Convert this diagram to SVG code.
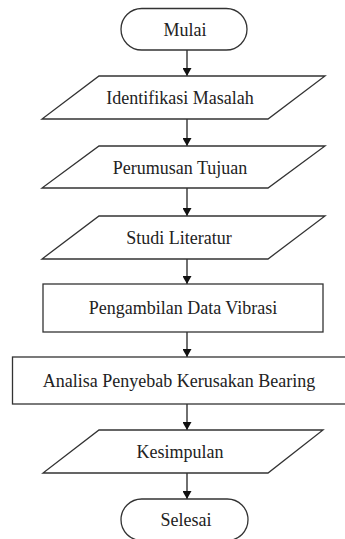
<svg xmlns="http://www.w3.org/2000/svg" width="345" height="539" viewBox="0 0 345 539">
<defs>
<marker id="ah" viewBox="0 0 8 9" refX="8" refY="4.5" markerWidth="8" markerHeight="9" markerUnits="userSpaceOnUse" orient="auto">
<path d="M0,0 L8,4.5 L0,9 Z" fill="#111"/>
</marker>
</defs>
<style>
.s{fill:#fff;stroke:#333;stroke-width:1.3}
.t{font-size:18px;fill:#222;text-anchor:middle}
.c{stroke:#222;stroke-width:1.3;fill:none}
</style>
<rect width="345" height="539" fill="#fff"/>
<g id="connectors">
<line class="c" x1="187" y1="50" x2="187" y2="76" marker-end="url(#ah)"/>
<line class="c" x1="187" y1="119" x2="187" y2="146" marker-end="url(#ah)"/>
<line class="c" x1="187" y1="188" x2="187" y2="216" marker-end="url(#ah)"/>
<line class="c" x1="187" y1="259" x2="187" y2="284" marker-end="url(#ah)"/>
<line class="c" x1="187" y1="332" x2="187" y2="357" marker-end="url(#ah)"/>
<line class="c" x1="187" y1="404" x2="187" y2="430" marker-end="url(#ah)"/>
<line class="c" x1="187" y1="473" x2="187" y2="499" marker-end="url(#ah)"/>
</g>
<g font-family="'Liberation Serif', 'Times New Roman', serif">
<g id="mulai">
<rect class="s" x="121" y="8.5" width="126" height="41.5" rx="20.75"/>
<text class="t" x="185" y="35.5">Mulai</text>
</g>
<g id="identifikasi">
<polygon class="s" points="99,76 325,76 268,119 42,119"/>
<text class="t" x="180" y="104">Identifikasi Masalah</text>
</g>
<g id="perumusan">
<polygon class="s" points="99,146 325,146 268,188 42,188"/>
<text class="t" x="180" y="173.5">Perumusan Tujuan</text>
</g>
<g id="studi">
<polygon class="s" points="99,216 325,216 268,259 42,259"/>
<text class="t" x="179" y="244">Studi Literatur</text>
</g>
<g id="pengambilan">
<rect class="s" x="43" y="284" width="280" height="48"/>
<text class="t" x="183" y="314">Pengambilan Data Vibrasi</text>
</g>
<g id="analisa">
<rect class="s" x="12.5" y="357" width="340" height="47"/>
<text class="t" x="179" y="386.5">Analisa Penyebab Kerusakan Bearing</text>
</g>
<g id="kesimpulan">
<polygon class="s" points="99,430 323,430 268,473 43,473"/>
<text class="t" x="180" y="458">Kesimpulan</text>
</g>
<g id="selesai">
<rect class="s" x="121" y="499" width="127" height="41.5" rx="20.75"/>
<text class="t" x="186" y="526">Selesai</text>
</g>
</g>
</svg>
